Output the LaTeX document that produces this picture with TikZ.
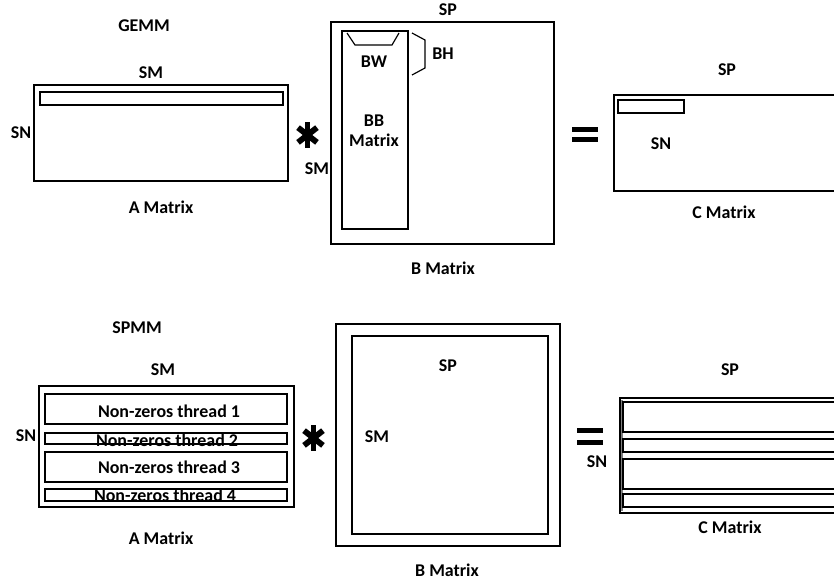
\documentclass[tikz,border=0pt]{standalone}
\usepackage{fontspec}
\setmainfont{Carlito}
\usetikzlibrary{positioning,calc}
\tikzset{
  lbl/.style={font=\bfseries\fontsize{15.3}{17}\selectfont,inner sep=0pt,align=center},
  box/.style={draw,line width=1.2pt},
  thin box/.style={draw,line width=1pt},
  opsym/.style={line width=4.2pt},
  starsym/.style={line width=5pt},
}

\begin{document}
\begin{tikzpicture}[x=0.03cm,y=-0.03cm]
  \clip (0,0) rectangle (834,581);
  % ---- GEMM ----
  \node[lbl] (gemm) at (144,26) {GEMM};
  \node[lbl] (asm) at (151,73) {SM};
  \node[lbl] (asn) at (21,133) {SN};
  \draw[box] (34,85) rectangle (288,181);
  \draw[thin box] (40,92) rectangle (283,105);
  \node[lbl] (aname) at (161,207) {A Matrix};
  % multiply
  \coordinate (mul1) at (307.5,135);
  \draw[starsym] ($(mul1)+(0,-13)$) -- ($(mul1)+(0,13)$);
  \foreach \a in {38,142}
    \draw[starsym] ($(mul1)+(\a:12)$) -- ($(mul1)+(\a+180:12)$);
  % B matrix with BB block
  \node[lbl] (bsp) at (448,10) {SP};
  \draw[box] (331,22) rectangle (554,244);
  \draw[thin box] (342,31) rectangle (408,229);
  \draw[thin box] (347,33) -- (355,45) -- (392,45) -- (399,33);
  \draw[thin box] (412,33) -- (425,40) -- (425,68) -- (412,75);
  \node[lbl] (bw) at (374,62) {BW};
  \node[lbl] (bh) at (443,54) {BH};
  \node[lbl] (bb) at (374,131) {BB\\Matrix};
  \node[lbl] (bsm) at (317,169) {SM};
  \node[lbl] (bname) at (443,268) {B Matrix};
  % equals
  \coordinate (eq1) at (585,134.5);
  \draw[opsym] ($(eq1)+(-13,-5)$) -- ($(eq1)+(13,-5)$);
  \draw[opsym] ($(eq1)+(-13,5)$) -- ($(eq1)+(13,5)$);
  % C matrix
  \node[lbl] (csp) at (727,70) {SP};
  \draw[box] (614,95) rectangle (850,191);
  \draw[thin box] (618,100) rectangle (684,113);
  \node[lbl] (csn) at (661,144) {SN};
  \node[lbl] (cname) at (724,212) {C Matrix};

  % ---- SPMM ----
  \node[lbl] (spmm) at (137,328) {SPMM};
  \node[lbl] (asm2) at (163,370) {SM};
  \node[lbl] (asn2) at (26,436) {SN};
  \draw[box] (39,386) rectangle (294,507);
  \draw[thin box] (45,394) rectangle (287,424);
  \draw[thin box] (45,433) rectangle (287,444);
  \draw[thin box] (45,452) rectangle (287,482);
  \draw[thin box] (45,489) rectangle (287,501);
  \node[lbl] (nz1) at (169,411) {Non-zeros thread 1};
  \node[lbl] (nz2) at (167,440) {Non-zeros thread 2};
  \node[lbl] (nz3) at (169,467) {Non-zeros thread 3};
  \node[lbl] (nz4) at (165,495) {Non-zeros thread 4};
  \node[lbl] (aname2) at (161,538) {A Matrix};
  % multiply
  \coordinate (mul2) at (313.5,438);
  \draw[starsym] ($(mul2)+(0,-13)$) -- ($(mul2)+(0,13)$);
  \foreach \a in {38,142}
    \draw[starsym] ($(mul2)+(\a:12)$) -- ($(mul2)+(\a+180:12)$);
  % B matrix
  \draw[box] (336,324) rectangle (560,546);
  \draw[box] (352,336) rectangle (548,534);
  \node[lbl] (bsp2) at (448,366) {SP};
  \node[lbl] (bsm2) at (377,437) {SM};
  \node[lbl] (bname2) at (447,570) {B Matrix};
  % equals
  \coordinate (eq2) at (590,436.5);
  \draw[opsym] ($(eq2)+(-13,-6)$) -- ($(eq2)+(13,-6)$);
  \draw[opsym] ($(eq2)+(-13,6)$) -- ($(eq2)+(13,6)$);
  \node[lbl] (csn2) at (597,462) {SN};
  % C matrix
  \node[lbl] (csp2) at (730,370) {SP};
  \draw[box] (620,398) rectangle (850,513);
  \draw[thin box,draw=gray] (622,400) -- (622,511);
  \draw[box] (623,402) rectangle (850,432);
  \draw[box] (623,439) rectangle (850,452);
  \draw[box] (623,459) rectangle (850,489);
  \draw[box] (623,494) rectangle (850,507);
  \node[lbl] (cname2) at (730,527) {C Matrix};
\end{tikzpicture}
\end{document}
